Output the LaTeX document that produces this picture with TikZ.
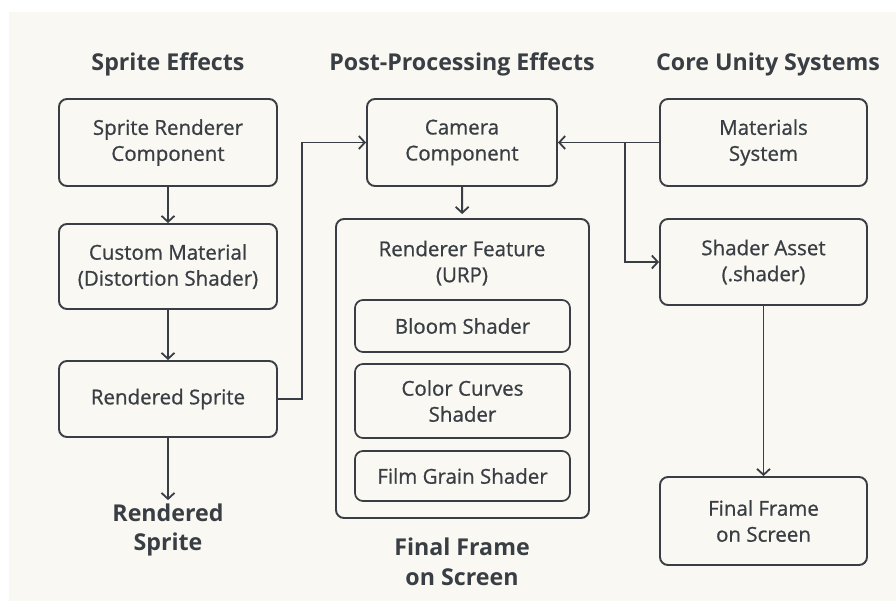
\documentclass[tikz,border=0pt]{standalone}
\usepackage{fontspec}
\setmainfont{Open Sans}
\newfontface\medfont{Open Sans}[RawFeature={embolden=0.8}]
\usetikzlibrary{positioning,arrows.meta,backgrounds}
\definecolor{ink}{HTML}{383E43}
\definecolor{paper}{HTML}{FAF8F3}
\tikzset{
  % --- boxes and labels ------------------------------------------------------
  box/.style={draw=ink,line width=1.9pt,rounded corners=8pt,align=center,
              text=ink,font=\medfont\fontsize{20.5}{26}\selectfont,inner sep=0pt},
  sub/.style={box,line width=1.7pt,minimum width=215pt},
  colhead/.style={text=ink,font=\bfseries\fontsize{23.2}{29.5}\selectfont,align=center},
  % --- connectors ------------------------------------------------------------
  ar/.style={-{Straight Barb[length=6pt,width=13pt,line width=1.8pt]},draw=ink,
             line width=1.9pt},
}
\begin{document}
\begin{tikzpicture}[x=1pt,y=-1pt]
  \useasboundingbox (0,0) rectangle (896,602);
  \fill[white] (0,0) rectangle (896,602);
  \fill[paper] (9,12) rectangle (896,601);
  % column heads
  \node[colhead] (hsprite) at (168,64) {Sprite Effects};
  \node[colhead] (hpost) at (462,64) {Post-Processing Effects};
  \node[colhead] (hcore) at (768,64) {Core Unity Systems};
  % sprite column
  \node[box,minimum width=218pt,minimum height=87pt] (srend) at (168,142.5) {Sprite Renderer\\Component};
  \node[box,minimum width=218pt,minimum height=85pt] (cmat) at (168,266.5) {Custom Material\\(Distortion Shader)};
  \node[box,minimum width=218pt,minimum height=76pt] (rsprite) at (168,399) {Rendered Sprite};
  \node[colhead] (rsout) at (168,530) {Rendered\\Sprite};
  % post-processing column
  \node[box,minimum width=190pt,minimum height=87pt] (cam) at (462,142.5) {Camera\\Component};
  \node[box,minimum width=253pt,minimum height=299pt] (urp) at (462.5,368.5) {};
  \node[text=ink,font=\medfont\fontsize{20.5}{26}\selectfont,align=center] (urplab) at (462,263) {Renderer Feature\\(URP)};
  \node[sub,minimum height=52pt] (bloom) at (462.5,326) {Bloom Shader};
  \node[sub,minimum height=74pt] (curves) at (462.5,401) {Color Curves\\Shader};
  \node[sub,minimum height=50pt] (grain) at (462.5,476) {Film Grain Shader};
  \node[colhead] (ppout) at (462,562) {Final Frame\\on Screen};
  % core column
  \node[box,minimum width=207pt,minimum height=87pt] (matsys) at (763.5,142.5) {Materials\\System};
  \node[box,minimum width=207pt,minimum height=86pt] (shader) at (763.5,262) {Shader Asset\\(.shader)};
  \node[box,minimum width=207pt,minimum height=88pt] (final) at (763.5,521) {Final Frame\\on Screen};
  \coordinate (split) at (625,142.5);
  % connectors
  \draw[ar] (srend) -- (cmat);
  \draw[ar] (cmat) -- (rsprite);
  \draw[ar] (rsprite) -- (rsout);
  \draw[ar] (rsprite.east) -- ++(24,0) |- (cam.west);
  \draw[ar,shorten >=4pt] (cam) -- (urp);
  \draw[ar] (matsys.west) -- (cam.east);
  \draw[ar] (split) |- (shader.west);
  \draw[ar] (shader) -- (final);
\end{tikzpicture}
\end{document}
